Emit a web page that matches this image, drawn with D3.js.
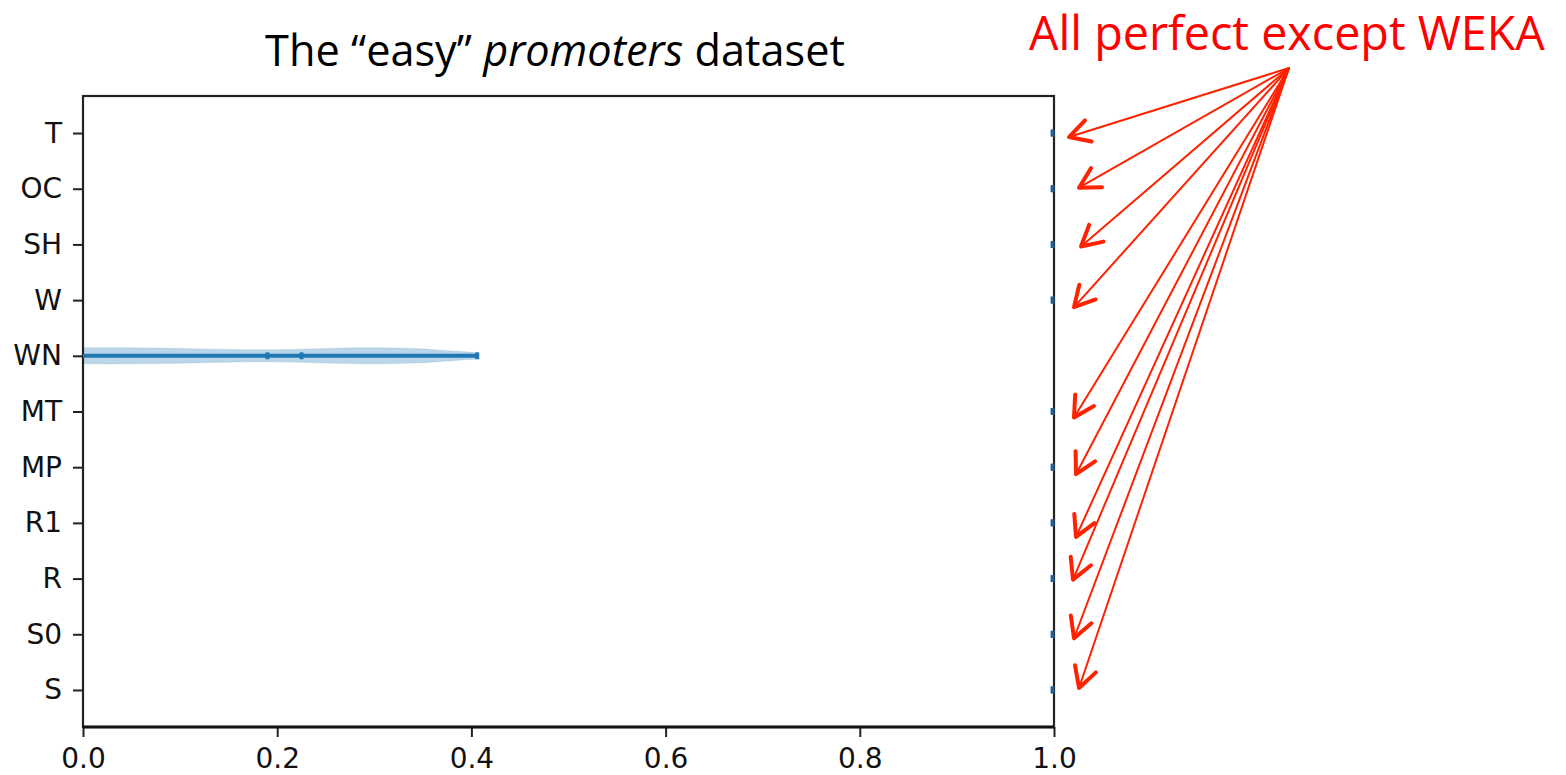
<!DOCTYPE html>
<html>
<head>
<meta charset="utf-8">
<script src="https://cdn.jsdelivr.net/npm/d3@7"></script>
<style>
  html, body { margin: 0; padding: 0; background: #fff; }
  svg { display: block; }
</style>
</head>
<body>
<div id="chart"></div>
<script>
// categories, top to bottom
const categories = ['T', 'OC', 'SH', 'W', 'WN', 'MT', 'MP', 'R1', 'R', 'S0', 'S'];
// accuracy range for each tool (min / max), all but WN collapse to 1.0
const minValues = [1, 1, 1, 1, 0.0, 1, 1, 1, 1, 1, 1];
const maxValues = [1, 1, 1, 1, 0.406, 1, 1, 1, 1, 1, 1];
// WN violin: mean / median ticks and kernel density outline
const wnInner = [0.19, 0.225];
const wnKdeX = [0, 0.03, 0.07, 0.11, 0.15, 0.19, 0.225, 0.26, 0.30, 0.34, 0.37, 0.39, 0.406];
const wnKdeD = [0.9, 0.92, 0.88, 0.8, 0.7, 0.66, 0.72, 0.86, 0.92, 0.84, 0.62, 0.46, 0.36];
const xTicks = [0, 0.2, 0.4, 0.6, 0.8, 1.0];
// annotation arrows point at these rows (WN is the exception)
const arrowRows = ['T', 'OC', 'SH', 'W', 'MT', 'MP', 'R1', 'R', 'S0', 'S'];
const arrowNudge = [[15, 4], [25, -1], [27, 2], [20, 7], [20, 6], [22, 7], [22, 14], [19, 1], [20, 4], [25, -2]];

const W = 1566, H = 775;
const plot = {left: 83, right: 1054, top: 96, bottom: 727};
const blue = '#1f77b4';
const red = '#ff2200';

const svg = d3.select('#chart').append('svg')
    .attr('width', W)
    .attr('height', H);

const x = d3.scaleLinear().domain([0, 1]).range([plot.left, plot.right]);
const y = d3.scaleLinear().domain([0.335, 11.665]).range([plot.bottom, plot.top]);
const pos = c => categories.length - categories.indexOf(c);

// clip for the violin body
svg.append('clipPath').attr('id', 'clip')
  .append('rect')
    .attr('x', plot.left).attr('y', plot.top)
    .attr('width', plot.right - plot.left).attr('height', plot.bottom - plot.top);

const g = svg.append('g').attr('clip-path', 'url(#clip)');

// WN violin body
const halfW = 0.16;
const wnPts = wnKdeX.map((v, i) => [v, wnKdeD[i]]);
const area = d3.area()
    .curve(d3.curveBasis)
    .x(d => x(d[0]))
    .y0(d => y(pos('WN') - d[1] * halfW))
    .y1(d => y(pos('WN') + d[1] * halfW));

g.append('path')
    .datum(wnPts)
    .attr('d', area)
    .attr('fill', blue)
    .attr('fill-opacity', 0.3)
    .attr('stroke', blue)
    .attr('stroke-opacity', 0.15)
    .attr('stroke-width', 1);

// axes
const xAxis = svg.append('g')
    .attr('transform', `translate(0,${plot.bottom})`)
    .call(d3.axisBottom(x).tickValues(xTicks).tickFormat(d3.format('.1f')).tickSize(10).tickPadding(11));
const yAxis = svg.append('g')
    .attr('transform', `translate(${plot.left},0)`)
    .call(d3.axisLeft(y).tickValues(categories.map(pos)).tickFormat(p => categories[categories.length - p]).tickSize(10).tickPadding(11));

[xAxis, yAxis].forEach(a => {
  a.select('.domain').remove();
  a.selectAll('.tick line').attr('stroke', '#222').attr('stroke-width', 2);
  a.selectAll('.tick text')
      .attr('fill', '#111')
      .style('font-family', '"DejaVu Sans", sans-serif')
      .style('font-size', '28px');
});

// frame
svg.append('rect')
    .attr('x', plot.left).attr('y', plot.top)
    .attr('width', plot.right - plot.left).attr('height', plot.bottom - plot.top)
    .attr('fill', 'none').attr('stroke', '#222').attr('stroke-width', 2.2);
svg.append('line')
    .attr('x1', plot.left).attr('x2', plot.right)
    .attr('y1', plot.bottom).attr('y2', plot.bottom)
    .attr('stroke', '#111').attr('stroke-width', 3);

// bars min -> max, drawn over the frame
const marks = svg.append('g');
const tickH = 0.062;
categories.forEach((c, i) => {
  const p = pos(c);
  const spread = maxValues[i] > minValues[i];
  if (spread) {
    marks.append('line')
        .attr('x1', x(minValues[i])).attr('x2', x(maxValues[i]))
        .attr('y1', y(p)).attr('y2', y(p))
        .attr('stroke', blue).attr('stroke-width', 4);
  }
  [minValues[i], maxValues[i]].forEach(v => {
    if (spread && v === minValues[i]) return;
    marks.append('line')
        .attr('x1', x(v) - (spread ? 0 : 1.5)).attr('x2', x(v) - (spread ? 0 : 1.5))
        .attr('y1', y(p - tickH)).attr('y2', y(p + tickH))
        .attr('stroke', spread ? blue : '#1f5f9a')
        .attr('stroke-width', spread ? 4 : 3.5);
  });
});
wnInner.forEach(v => {
  marks.append('line')
      .attr('x1', x(v)).attr('x2', x(v))
      .attr('y1', y(pos('WN') - tickH)).attr('y2', y(pos('WN') + tickH))
      .attr('stroke', blue).attr('stroke-width', 4);
});

// fit a text element to a target width
function fit(sel, width) {
  const len = sel.node().getComputedTextLength();
  const fs = parseFloat(sel.style('font-size'));
  sel.style('font-size', (fs * width / len) + 'px');
}

// title
const title = svg.append('text')
    .attr('x', 555).attr('y', 66)
    .attr('text-anchor', 'middle')
    .attr('fill', '#000')
    .style('font-family', '"Open Sans", "Noto Sans", sans-serif')
    .style('font-size', '38px');
title.append('tspan').text('The \u201Ceasy\u201D ');
title.append('tspan').style('font-style', 'italic').text('promoters');
title.append('tspan').text(' dataset');
fit(title, 580);

// annotation
const note = svg.append('text')
    .attr('x', 1029).attr('y', 50)
    .attr('fill', '#ff0000')
    .style('font-family', '"Open Sans", "Noto Sans", sans-serif')
    .style('font-size', '42px')
    .text('All perfect except WEKA');
fit(note, 516);

const src = [1289, 68];
const arrows = svg.append('g')
    .attr('stroke', red).attr('fill', 'none')
    .attr('stroke-linecap', 'round').attr('stroke-linejoin', 'round');
arrowRows.forEach((c, i) => {
  const tx = x(1) + arrowNudge[i][0];
  const ty = y(pos(c)) + arrowNudge[i][1];
  arrows.append('line')
      .attr('x1', src[0]).attr('y1', src[1])
      .attr('x2', tx).attr('y2', ty)
      .attr('stroke-width', 2);
  const ang = Math.atan2(src[1] - ty, src[0] - tx);
  const L = 23, spread = 0.5;
  const a1 = [tx + L * Math.cos(ang + spread), ty + L * Math.sin(ang + spread)];
  const a2 = [tx + L * Math.cos(ang - spread), ty + L * Math.sin(ang - spread)];
  arrows.append('path')
      .attr('d', `M${a1[0]},${a1[1]}L${tx},${ty}L${a2[0]},${a2[1]}`)
      .attr('stroke-width', 4);
});
</script>
</body>
</html>
